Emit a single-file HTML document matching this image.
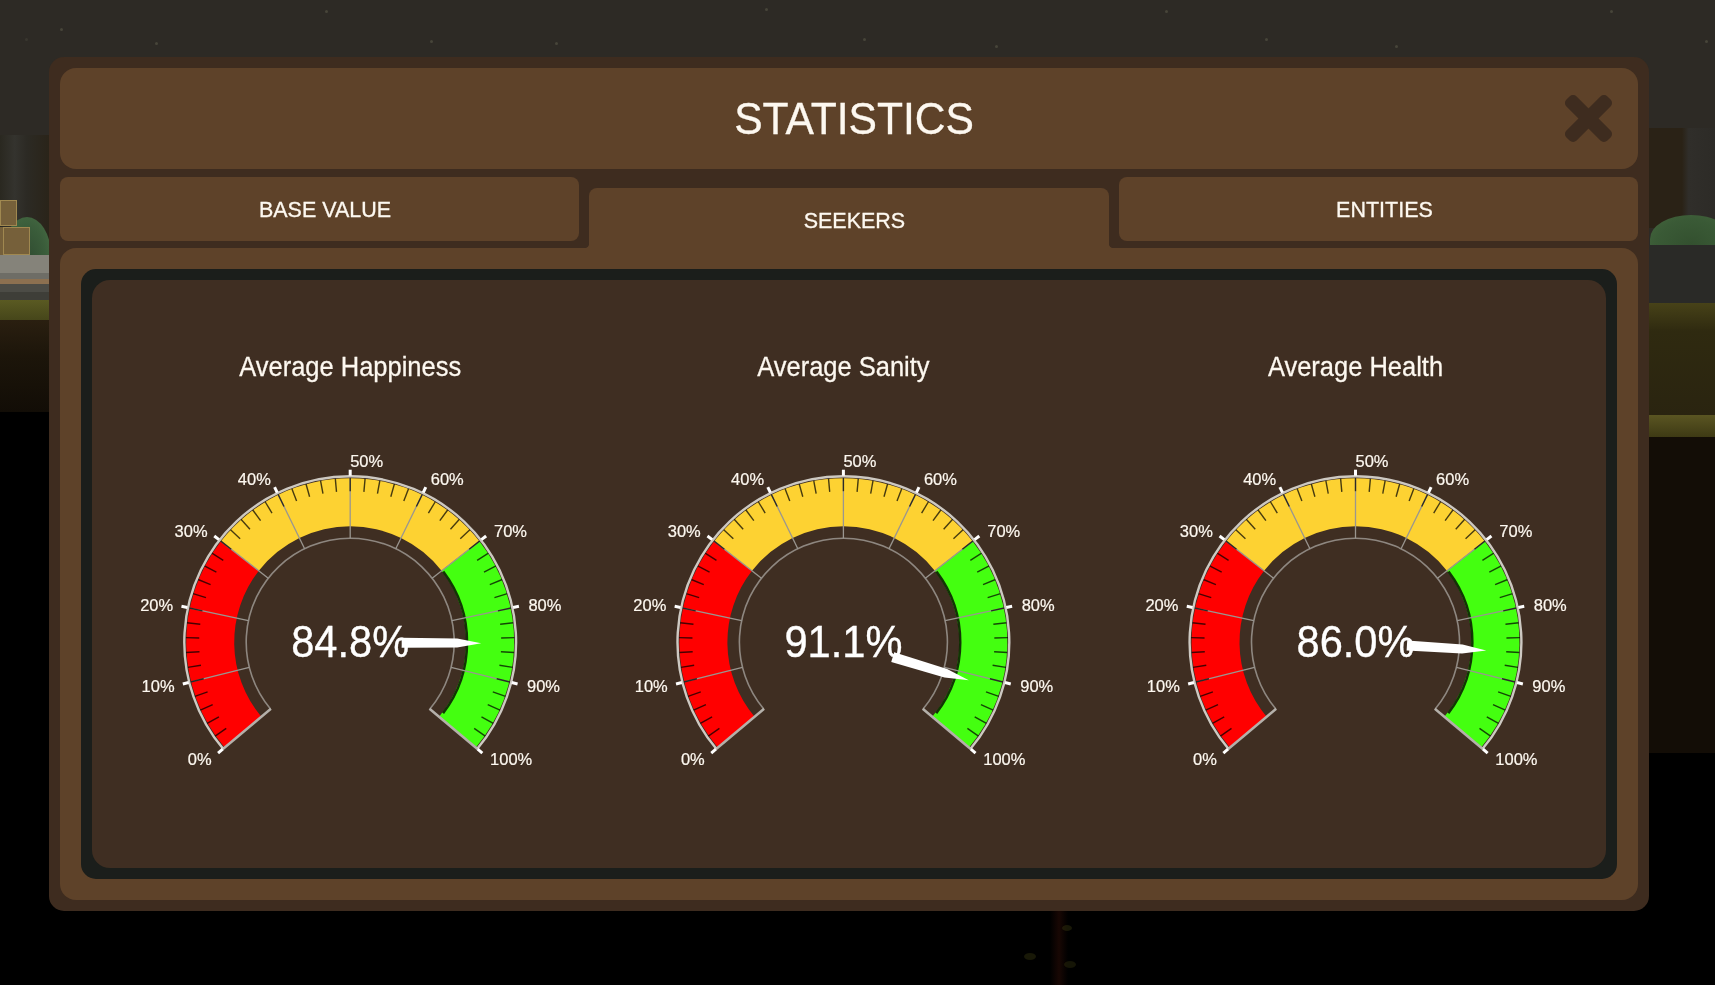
<!DOCTYPE html>
<html><head><meta charset="utf-8"><style>
html,body{margin:0;padding:0;}
body{width:1715px;height:985px;position:relative;overflow:hidden;background:#000;font-family:"Liberation Sans",sans-serif;}
.abs{position:absolute;}
.lab{font-family:"Liberation Sans",sans-serif;font-size:16.5px;fill:#fdf8f0;stroke:#fdf8f0;stroke-width:0.2px;}
.val{font-family:"Liberation Sans",sans-serif;font-size:41.6px;fill:#ffffff;stroke:#ffffff;stroke-width:0.35px;}
.ttl{font-family:"Liberation Sans",sans-serif;font-size:25.5px;fill:#fdf8f0;stroke:#fdf8f0;stroke-width:0.25px;}
.txt{position:absolute;color:#fcf4e6;white-space:nowrap;line-height:1;}
</style></head><body>
<!-- background -->
<div class="abs" style="left:0;top:0;width:1715px;height:412px;background:#2d2a25"></div>
<div class="abs" style="left:0;top:135px;width:49px;height:120px;background:linear-gradient(90deg,#2a2820 0,#34332e 30%,#2c2a24 55%,#2a2419 100%)"></div>
<div class="abs" style="left:0;top:200px;width:49px;height:55px;overflow:hidden"><div class="abs" style="left:3px;top:17px;width:48px;height:76px;border-radius:50%;background:radial-gradient(ellipse at 50% 60%,#2f4a30 0,#3a5c3a 55%,#4a7046 100%)"></div></div>
<div class="abs" style="left:0;top:200px;width:17px;height:26px;background:#76603a;box-shadow:inset 0 0 0 1px #a08850"></div>
<div class="abs" style="left:0;top:227px;width:3px;height:28px;background:#76603a"></div>
<div class="abs" style="left:3px;top:227px;width:27px;height:28px;background:#76603a;box-shadow:inset 0 0 0 1px #a08850"></div>
<div class="abs" style="left:0;top:255px;width:49px;height:18px;background:#85837a"></div>
<div class="abs" style="left:0;top:273px;width:49px;height:6px;background:#6e6d66"></div>
<div class="abs" style="left:0;top:279px;width:49px;height:5px;background:#8c7050"></div>
<div class="abs" style="left:0;top:284px;width:49px;height:8px;background:#4c4c46"></div>
<div class="abs" style="left:0;top:292px;width:49px;height:8px;background:#3e3e38"></div>
<div class="abs" style="left:0;top:300px;width:49px;height:20px;background:linear-gradient(#5a5a22,#46461a)"></div>
<div class="abs" style="left:0;top:320px;width:49px;height:92px;background:linear-gradient(#2a1f10,#1c150a 40%,#120d06)"></div>
<div class="abs" style="left:1649px;top:128px;width:66px;height:100px;background:linear-gradient(90deg,#2a2216 0,#2a2216 50%,#302e2a 60%,#2d2b27 100%)"></div>
<div class="abs" style="left:1649px;top:235px;width:66px;height:68px;background:#2a2a27"></div>
<div class="abs" style="left:1650px;top:215px;width:82px;height:30px;background:radial-gradient(ellipse at 50% 100%,#33502f 0,#3a5a36 60%,#44663c 100%);border-radius:50% 50% 0 0/80% 80% 0 0"></div>
<div class="abs" style="left:1649px;top:303px;width:66px;height:112px;background:linear-gradient(#474218,#2f2a10 25%,#2a2410)"></div>
<div class="abs" style="left:1649px;top:415px;width:66px;height:22px;background:linear-gradient(#5a5522,#3e3a14)"></div>
<div class="abs" style="left:1649px;top:437px;width:66px;height:316px;background:#130d06"></div>
<div class="abs" style="left:25px;top:38px;width:3px;height:3px;background:rgba(150,150,120,0.12);border-radius:50%"></div><div class="abs" style="left:60px;top:28px;width:3px;height:3px;background:rgba(150,150,120,0.25);border-radius:50%"></div><div class="abs" style="left:155px;top:42px;width:3px;height:3px;background:rgba(150,150,120,0.25);border-radius:50%"></div><div class="abs" style="left:325px;top:10px;width:3px;height:3px;background:rgba(150,150,120,0.25);border-radius:50%"></div><div class="abs" style="left:430px;top:40px;width:3px;height:3px;background:rgba(150,150,120,0.25);border-radius:50%"></div><div class="abs" style="left:555px;top:42px;width:3px;height:3px;background:rgba(150,150,120,0.25);border-radius:50%"></div><div class="abs" style="left:765px;top:8px;width:3px;height:3px;background:rgba(150,150,120,0.25);border-radius:50%"></div><div class="abs" style="left:863px;top:38px;width:3px;height:3px;background:rgba(150,150,120,0.25);border-radius:50%"></div><div class="abs" style="left:995px;top:45px;width:3px;height:3px;background:rgba(150,150,120,0.25);border-radius:50%"></div><div class="abs" style="left:1165px;top:10px;width:3px;height:3px;background:rgba(150,150,120,0.25);border-radius:50%"></div><div class="abs" style="left:1265px;top:38px;width:3px;height:3px;background:rgba(150,150,120,0.25);border-radius:50%"></div><div class="abs" style="left:1395px;top:45px;width:3px;height:3px;background:rgba(150,150,120,0.25);border-radius:50%"></div><div class="abs" style="left:1610px;top:10px;width:3px;height:3px;background:rgba(150,150,120,0.25);border-radius:50%"></div><div class="abs" style="left:1705px;top:40px;width:3px;height:3px;background:rgba(150,150,120,0.25);border-radius:50%"></div>
<div class="abs" style="left:1050px;top:911px;width:18px;height:74px;background:linear-gradient(90deg,rgba(40,10,5,0) 0,rgba(40,12,6,0.6) 50%,rgba(40,10,5,0) 100%)"></div>
<div class="abs" style="left:1062px;top:925px;width:10px;height:6px;background:rgba(70,70,20,0.35);border-radius:50%"></div>
<div class="abs" style="left:1024px;top:953px;width:12px;height:7px;background:rgba(70,70,20,0.35);border-radius:50%"></div>
<div class="abs" style="left:1064px;top:961px;width:12px;height:7px;background:rgba(70,70,20,0.3);border-radius:50%"></div>
<!-- modal -->
<div class="abs" style="left:49px;top:57px;width:1600px;height:854px;background:#3e2c1f;border-radius:15px"></div>
<div class="abs" style="left:60px;top:68px;width:1578px;height:101px;background:#5e4229;border-radius:16px"></div>

<svg class="abs" style="left:0;top:0" width="1715" height="985"><g fill="#3e2c1f" transform="translate(1588.5,118.5)"><rect x="-29" y="-7.2" width="58" height="14.4" rx="5" transform="rotate(45)"/><rect x="-29" y="-7.2" width="58" height="14.4" rx="5" transform="rotate(-45)"/></g></svg>
<div class="abs" style="left:60px;top:177px;width:519px;height:64px;background:#5e4229;border-radius:8px"></div>
<div class="abs" style="left:1119px;top:177px;width:519px;height:64px;background:#5e4229;border-radius:8px"></div>
<div class="abs" style="left:589px;top:188px;width:520px;height:80px;background:#5e4229;border-radius:8px 8px 0 0"></div>
<div class="abs" style="left:60px;top:248px;width:1578px;height:652px;background:#5e4229;border-radius:16px"></div>
<div class="abs" style="left:585px;top:244px;width:4px;height:4px;background:radial-gradient(circle at 0 0,#3e2c1f 3.6px,#5e4229 4.4px)"></div>
<div class="abs" style="left:1109px;top:244px;width:4px;height:4px;background:radial-gradient(circle at 100% 0,#3e2c1f 3.6px,#5e4229 4.4px)"></div>

<div class="abs" style="left:81px;top:269px;width:1536px;height:610px;background:#1b1e1b;border-radius:15px"></div>
<div class="abs" style="left:92px;top:280px;width:1514px;height:588px;background:#3f2e22;border-radius:18px"></div>
<svg class="abs" style="left:0;top:0;will-change:transform" width="1715" height="985">
<g fill="#fdf8f0" stroke="#fdf8f0" stroke-width="0.3" font-family="Liberation Sans" text-anchor="middle">
<text transform="translate(854.1,133.8) scale(1,1.04)" font-size="42.6">STATISTICS</text>
<text transform="translate(325,216.7) scale(1,1.04)" font-size="21.5">BASE VALUE</text>
<text transform="translate(854.45,227.7) scale(1,1.04)" font-size="21.5">SEEKERS</text>
<text transform="translate(1384.45,216.9) scale(1,1.04)" font-size="21.5">ENTITIES</text>
</g>
<path d="M224.57,747.62 A164.0,164.0 0 0 1 220.97,541.23 L258.79,570.78 A116.0,116.0 0 0 0 261.34,716.76 Z" fill="#ff0000"/>
<path d="M220.97,541.23 A164.0,164.0 0 0 1 479.43,541.23 L441.61,570.78 A116.0,116.0 0 0 0 258.79,570.78 Z" fill="#fdd232"/>
<path d="M479.43,541.23 A164.0,164.0 0 0 1 475.83,747.62 L439.06,716.76 A116.0,116.0 0 0 0 441.61,570.78 Z" fill="#44ff10"/>
<path d="M443.29,571.49 A116.9,116.9 0 0 1 443.07,713.20" fill="none" stroke="rgba(8,18,2,0.85)" stroke-width="2.4"/>
<path d="M270.53,709.05 A104.0,104.0 0 1 1 429.87,709.05" fill="none" stroke="#8e8780" stroke-width="1.6"/>
<line x1="249.29" y1="667.36" x2="191.07" y2="681.88" stroke="#9a9690" stroke-width="1.3" stroke-linecap="butt"/>
<line x1="248.47" y1="620.58" x2="189.78" y2="608.10" stroke="#9a9690" stroke-width="1.3" stroke-linecap="butt"/>
<line x1="268.25" y1="578.17" x2="220.97" y2="541.23" stroke="#9a9690" stroke-width="1.3" stroke-linecap="butt"/>
<line x1="304.61" y1="548.73" x2="278.31" y2="494.80" stroke="#9a9690" stroke-width="1.3" stroke-linecap="butt"/>
<line x1="350.20" y1="538.20" x2="350.20" y2="478.20" stroke="#9a9690" stroke-width="1.3" stroke-linecap="butt"/>
<line x1="395.79" y1="548.73" x2="422.09" y2="494.80" stroke="#9a9690" stroke-width="1.3" stroke-linecap="butt"/>
<line x1="432.15" y1="578.17" x2="479.43" y2="541.23" stroke="#9a9690" stroke-width="1.3" stroke-linecap="butt"/>
<line x1="451.93" y1="620.58" x2="510.62" y2="608.10" stroke="#9a9690" stroke-width="1.3" stroke-linecap="butt"/>
<line x1="451.11" y1="667.36" x2="509.33" y2="681.88" stroke="#9a9690" stroke-width="1.3" stroke-linecap="butt"/>
<line x1="234.53" y1="739.26" x2="224.19" y2="747.94" stroke="rgba(0,0,0,0.72)" stroke-width="1.4" stroke-linecap="butt"/>
<line x1="226.21" y1="728.38" x2="215.12" y2="736.08" stroke="rgba(0,0,0,0.72)" stroke-width="1.4" stroke-linecap="butt"/>
<line x1="218.91" y1="716.79" x2="207.17" y2="723.45" stroke="rgba(0,0,0,0.72)" stroke-width="1.4" stroke-linecap="butt"/>
<line x1="212.69" y1="704.58" x2="200.39" y2="710.16" stroke="rgba(0,0,0,0.72)" stroke-width="1.4" stroke-linecap="butt"/>
<line x1="207.60" y1="691.86" x2="194.85" y2="696.30" stroke="rgba(0,0,0,0.72)" stroke-width="1.4" stroke-linecap="butt"/>
<line x1="203.69" y1="678.73" x2="190.59" y2="682.00" stroke="rgba(0,0,0,0.72)" stroke-width="1.4" stroke-linecap="butt"/>
<line x1="200.98" y1="665.30" x2="187.64" y2="667.37" stroke="rgba(0,0,0,0.72)" stroke-width="1.4" stroke-linecap="butt"/>
<line x1="199.50" y1="651.68" x2="186.02" y2="652.53" stroke="rgba(0,0,0,0.72)" stroke-width="1.4" stroke-linecap="butt"/>
<line x1="199.26" y1="637.98" x2="185.76" y2="637.61" stroke="rgba(0,0,0,0.72)" stroke-width="1.4" stroke-linecap="butt"/>
<line x1="200.26" y1="624.32" x2="186.86" y2="622.72" stroke="rgba(0,0,0,0.72)" stroke-width="1.4" stroke-linecap="butt"/>
<line x1="202.50" y1="610.81" x2="189.29" y2="608.00" stroke="rgba(0,0,0,0.72)" stroke-width="1.4" stroke-linecap="butt"/>
<line x1="205.95" y1="597.55" x2="193.06" y2="593.56" stroke="rgba(0,0,0,0.72)" stroke-width="1.4" stroke-linecap="butt"/>
<line x1="210.59" y1="584.66" x2="198.11" y2="579.51" stroke="rgba(0,0,0,0.72)" stroke-width="1.4" stroke-linecap="butt"/>
<line x1="216.38" y1="572.24" x2="204.42" y2="565.99" stroke="rgba(0,0,0,0.72)" stroke-width="1.4" stroke-linecap="butt"/>
<line x1="223.27" y1="560.40" x2="211.93" y2="553.09" stroke="rgba(0,0,0,0.72)" stroke-width="1.4" stroke-linecap="butt"/>
<line x1="231.21" y1="549.24" x2="220.57" y2="540.92" stroke="rgba(0,0,0,0.72)" stroke-width="1.4" stroke-linecap="butt"/>
<line x1="240.13" y1="538.83" x2="230.28" y2="529.59" stroke="rgba(0,0,0,0.72)" stroke-width="1.4" stroke-linecap="butt"/>
<line x1="249.95" y1="529.28" x2="240.98" y2="519.19" stroke="rgba(0,0,0,0.72)" stroke-width="1.4" stroke-linecap="butt"/>
<line x1="260.59" y1="520.66" x2="252.58" y2="509.79" stroke="rgba(0,0,0,0.72)" stroke-width="1.4" stroke-linecap="butt"/>
<line x1="271.98" y1="513.04" x2="264.98" y2="501.49" stroke="rgba(0,0,0,0.72)" stroke-width="1.4" stroke-linecap="butt"/>
<line x1="284.01" y1="506.48" x2="278.09" y2="494.35" stroke="rgba(0,0,0,0.72)" stroke-width="1.4" stroke-linecap="butt"/>
<line x1="296.58" y1="501.04" x2="291.78" y2="488.42" stroke="rgba(0,0,0,0.72)" stroke-width="1.4" stroke-linecap="butt"/>
<line x1="309.59" y1="496.76" x2="305.96" y2="483.76" stroke="rgba(0,0,0,0.72)" stroke-width="1.4" stroke-linecap="butt"/>
<line x1="322.94" y1="493.68" x2="320.50" y2="480.40" stroke="rgba(0,0,0,0.72)" stroke-width="1.4" stroke-linecap="butt"/>
<line x1="336.51" y1="491.82" x2="335.29" y2="478.38" stroke="rgba(0,0,0,0.72)" stroke-width="1.4" stroke-linecap="butt"/>
<line x1="350.20" y1="491.20" x2="350.20" y2="477.70" stroke="rgba(0,0,0,0.72)" stroke-width="1.4" stroke-linecap="butt"/>
<line x1="363.89" y1="491.82" x2="365.11" y2="478.38" stroke="rgba(0,0,0,0.72)" stroke-width="1.4" stroke-linecap="butt"/>
<line x1="377.46" y1="493.68" x2="379.90" y2="480.40" stroke="rgba(0,0,0,0.72)" stroke-width="1.4" stroke-linecap="butt"/>
<line x1="390.81" y1="496.76" x2="394.44" y2="483.76" stroke="rgba(0,0,0,0.72)" stroke-width="1.4" stroke-linecap="butt"/>
<line x1="403.82" y1="501.04" x2="408.62" y2="488.42" stroke="rgba(0,0,0,0.72)" stroke-width="1.4" stroke-linecap="butt"/>
<line x1="416.39" y1="506.48" x2="422.31" y2="494.35" stroke="rgba(0,0,0,0.72)" stroke-width="1.4" stroke-linecap="butt"/>
<line x1="428.42" y1="513.04" x2="435.42" y2="501.49" stroke="rgba(0,0,0,0.72)" stroke-width="1.4" stroke-linecap="butt"/>
<line x1="439.81" y1="520.66" x2="447.82" y2="509.79" stroke="rgba(0,0,0,0.72)" stroke-width="1.4" stroke-linecap="butt"/>
<line x1="450.45" y1="529.28" x2="459.42" y2="519.19" stroke="rgba(0,0,0,0.72)" stroke-width="1.4" stroke-linecap="butt"/>
<line x1="460.27" y1="538.83" x2="470.12" y2="529.59" stroke="rgba(0,0,0,0.72)" stroke-width="1.4" stroke-linecap="butt"/>
<line x1="469.19" y1="549.24" x2="479.83" y2="540.92" stroke="rgba(0,0,0,0.72)" stroke-width="1.4" stroke-linecap="butt"/>
<line x1="477.13" y1="560.40" x2="488.47" y2="553.09" stroke="rgba(0,0,0,0.72)" stroke-width="1.4" stroke-linecap="butt"/>
<line x1="484.02" y1="572.24" x2="495.98" y2="565.99" stroke="rgba(0,0,0,0.72)" stroke-width="1.4" stroke-linecap="butt"/>
<line x1="489.81" y1="584.66" x2="502.29" y2="579.51" stroke="rgba(0,0,0,0.72)" stroke-width="1.4" stroke-linecap="butt"/>
<line x1="494.45" y1="597.55" x2="507.34" y2="593.56" stroke="rgba(0,0,0,0.72)" stroke-width="1.4" stroke-linecap="butt"/>
<line x1="497.90" y1="610.81" x2="511.11" y2="608.00" stroke="rgba(0,0,0,0.72)" stroke-width="1.4" stroke-linecap="butt"/>
<line x1="500.14" y1="624.32" x2="513.54" y2="622.72" stroke="rgba(0,0,0,0.72)" stroke-width="1.4" stroke-linecap="butt"/>
<line x1="501.14" y1="637.98" x2="514.64" y2="637.61" stroke="rgba(0,0,0,0.72)" stroke-width="1.4" stroke-linecap="butt"/>
<line x1="500.90" y1="651.68" x2="514.38" y2="652.53" stroke="rgba(0,0,0,0.72)" stroke-width="1.4" stroke-linecap="butt"/>
<line x1="499.42" y1="665.30" x2="512.76" y2="667.37" stroke="rgba(0,0,0,0.72)" stroke-width="1.4" stroke-linecap="butt"/>
<line x1="496.71" y1="678.73" x2="509.81" y2="682.00" stroke="rgba(0,0,0,0.72)" stroke-width="1.4" stroke-linecap="butt"/>
<line x1="492.80" y1="691.86" x2="505.55" y2="696.30" stroke="rgba(0,0,0,0.72)" stroke-width="1.4" stroke-linecap="butt"/>
<line x1="487.71" y1="704.58" x2="500.01" y2="710.16" stroke="rgba(0,0,0,0.72)" stroke-width="1.4" stroke-linecap="butt"/>
<line x1="481.49" y1="716.79" x2="493.23" y2="723.45" stroke="rgba(0,0,0,0.72)" stroke-width="1.4" stroke-linecap="butt"/>
<line x1="474.19" y1="728.38" x2="485.28" y2="736.08" stroke="rgba(0,0,0,0.72)" stroke-width="1.4" stroke-linecap="butt"/>
<line x1="465.87" y1="739.26" x2="476.21" y2="747.94" stroke="rgba(0,0,0,0.72)" stroke-width="1.4" stroke-linecap="butt"/>
<line x1="270.91" y1="708.73" x2="222.35" y2="749.48" stroke="#b4b0aa" stroke-width="2.5" stroke-linecap="butt"/>
<line x1="429.49" y1="708.73" x2="478.05" y2="749.48" stroke="#b4b0aa" stroke-width="2.5" stroke-linecap="butt"/>
<path d="M223.11,748.84 A165.9,165.9 0 1 1 477.29,748.84" fill="none" stroke="#cdc9c2" stroke-width="2.4"/>
<line x1="222.65" y1="749.22" x2="218.06" y2="753.08" stroke="#ffffff" stroke-width="3.0" stroke-linecap="butt"/>
<line x1="188.65" y1="682.48" x2="182.82" y2="683.93" stroke="#ffffff" stroke-width="3.0" stroke-linecap="butt"/>
<line x1="187.34" y1="607.58" x2="181.47" y2="606.34" stroke="#ffffff" stroke-width="3.0" stroke-linecap="butt"/>
<line x1="219.00" y1="539.69" x2="214.27" y2="536.00" stroke="#ffffff" stroke-width="3.0" stroke-linecap="butt"/>
<line x1="277.21" y1="492.55" x2="274.58" y2="487.16" stroke="#ffffff" stroke-width="3.0" stroke-linecap="butt"/>
<line x1="350.20" y1="475.70" x2="350.20" y2="469.70" stroke="#ffffff" stroke-width="3.0" stroke-linecap="butt"/>
<line x1="423.19" y1="492.55" x2="425.82" y2="487.16" stroke="#ffffff" stroke-width="3.0" stroke-linecap="butt"/>
<line x1="481.40" y1="539.69" x2="486.13" y2="536.00" stroke="#ffffff" stroke-width="3.0" stroke-linecap="butt"/>
<line x1="513.06" y1="607.58" x2="518.93" y2="606.34" stroke="#ffffff" stroke-width="3.0" stroke-linecap="butt"/>
<line x1="511.75" y1="682.48" x2="517.58" y2="683.93" stroke="#ffffff" stroke-width="3.0" stroke-linecap="butt"/>
<line x1="477.75" y1="749.22" x2="482.34" y2="753.08" stroke="#ffffff" stroke-width="3.0" stroke-linecap="butt"/>
<text transform="translate(211.55,764.50) scale(1,1.05)" text-anchor="end" class="lab">0%</text>
<text transform="translate(174.58,691.95) scale(1,1.05)" text-anchor="end" class="lab">10%</text>
<text transform="translate(173.16,610.53) scale(1,1.05)" text-anchor="end" class="lab">20%</text>
<text transform="translate(207.57,536.73) scale(1,1.05)" text-anchor="end" class="lab">30%</text>
<text transform="translate(270.85,485.48) scale(1,1.05)" text-anchor="end" class="lab">40%</text>
<text transform="translate(350.20,467.16) scale(1,1.05)" text-anchor="start" class="lab">50%</text>
<text transform="translate(430.75,485.48) scale(1,1.05)" text-anchor="start" class="lab">60%</text>
<text transform="translate(494.03,536.73) scale(1,1.05)" text-anchor="start" class="lab">70%</text>
<text transform="translate(528.44,610.53) scale(1,1.05)" text-anchor="start" class="lab">80%</text>
<text transform="translate(527.02,691.95) scale(1,1.05)" text-anchor="start" class="lab">90%</text>
<text transform="translate(490.05,764.50) scale(1,1.05)" text-anchor="start" class="lab">100%</text>
<text transform="translate(350.20,657.0) scale(1,1.07)" text-anchor="middle" class="val">84.8%</text>
<polygon points="401.74,637.63 457.23,638.60 481.20,643.30 457.16,647.60 401.66,647.63" fill="#ffffff"/>
<text transform="translate(350.20,375.8) scale(1,1.07)" text-anchor="middle" class="ttl">Average Happiness</text><path d="M717.77,747.62 A164.0,164.0 0 0 1 714.17,541.23 L751.99,570.78 A116.0,116.0 0 0 0 754.54,716.76 Z" fill="#ff0000"/>
<path d="M714.17,541.23 A164.0,164.0 0 0 1 972.63,541.23 L934.81,570.78 A116.0,116.0 0 0 0 751.99,570.78 Z" fill="#fdd232"/>
<path d="M972.63,541.23 A164.0,164.0 0 0 1 969.03,747.62 L932.26,716.76 A116.0,116.0 0 0 0 934.81,570.78 Z" fill="#44ff10"/>
<path d="M936.49,571.49 A116.9,116.9 0 0 1 936.27,713.20" fill="none" stroke="rgba(8,18,2,0.85)" stroke-width="2.4"/>
<path d="M763.73,709.05 A104.0,104.0 0 1 1 923.07,709.05" fill="none" stroke="#8e8780" stroke-width="1.6"/>
<line x1="742.49" y1="667.36" x2="684.27" y2="681.88" stroke="#9a9690" stroke-width="1.3" stroke-linecap="butt"/>
<line x1="741.67" y1="620.58" x2="682.98" y2="608.10" stroke="#9a9690" stroke-width="1.3" stroke-linecap="butt"/>
<line x1="761.45" y1="578.17" x2="714.17" y2="541.23" stroke="#9a9690" stroke-width="1.3" stroke-linecap="butt"/>
<line x1="797.81" y1="548.73" x2="771.51" y2="494.80" stroke="#9a9690" stroke-width="1.3" stroke-linecap="butt"/>
<line x1="843.40" y1="538.20" x2="843.40" y2="478.20" stroke="#9a9690" stroke-width="1.3" stroke-linecap="butt"/>
<line x1="888.99" y1="548.73" x2="915.29" y2="494.80" stroke="#9a9690" stroke-width="1.3" stroke-linecap="butt"/>
<line x1="925.35" y1="578.17" x2="972.63" y2="541.23" stroke="#9a9690" stroke-width="1.3" stroke-linecap="butt"/>
<line x1="945.13" y1="620.58" x2="1003.82" y2="608.10" stroke="#9a9690" stroke-width="1.3" stroke-linecap="butt"/>
<line x1="944.31" y1="667.36" x2="1002.53" y2="681.88" stroke="#9a9690" stroke-width="1.3" stroke-linecap="butt"/>
<line x1="727.73" y1="739.26" x2="717.39" y2="747.94" stroke="rgba(0,0,0,0.72)" stroke-width="1.4" stroke-linecap="butt"/>
<line x1="719.41" y1="728.38" x2="708.32" y2="736.08" stroke="rgba(0,0,0,0.72)" stroke-width="1.4" stroke-linecap="butt"/>
<line x1="712.11" y1="716.79" x2="700.37" y2="723.45" stroke="rgba(0,0,0,0.72)" stroke-width="1.4" stroke-linecap="butt"/>
<line x1="705.89" y1="704.58" x2="693.59" y2="710.16" stroke="rgba(0,0,0,0.72)" stroke-width="1.4" stroke-linecap="butt"/>
<line x1="700.80" y1="691.86" x2="688.05" y2="696.30" stroke="rgba(0,0,0,0.72)" stroke-width="1.4" stroke-linecap="butt"/>
<line x1="696.89" y1="678.73" x2="683.79" y2="682.00" stroke="rgba(0,0,0,0.72)" stroke-width="1.4" stroke-linecap="butt"/>
<line x1="694.18" y1="665.30" x2="680.84" y2="667.37" stroke="rgba(0,0,0,0.72)" stroke-width="1.4" stroke-linecap="butt"/>
<line x1="692.70" y1="651.68" x2="679.22" y2="652.53" stroke="rgba(0,0,0,0.72)" stroke-width="1.4" stroke-linecap="butt"/>
<line x1="692.46" y1="637.98" x2="678.96" y2="637.61" stroke="rgba(0,0,0,0.72)" stroke-width="1.4" stroke-linecap="butt"/>
<line x1="693.46" y1="624.32" x2="680.06" y2="622.72" stroke="rgba(0,0,0,0.72)" stroke-width="1.4" stroke-linecap="butt"/>
<line x1="695.70" y1="610.81" x2="682.49" y2="608.00" stroke="rgba(0,0,0,0.72)" stroke-width="1.4" stroke-linecap="butt"/>
<line x1="699.15" y1="597.55" x2="686.26" y2="593.56" stroke="rgba(0,0,0,0.72)" stroke-width="1.4" stroke-linecap="butt"/>
<line x1="703.79" y1="584.66" x2="691.31" y2="579.51" stroke="rgba(0,0,0,0.72)" stroke-width="1.4" stroke-linecap="butt"/>
<line x1="709.58" y1="572.24" x2="697.62" y2="565.99" stroke="rgba(0,0,0,0.72)" stroke-width="1.4" stroke-linecap="butt"/>
<line x1="716.47" y1="560.40" x2="705.13" y2="553.09" stroke="rgba(0,0,0,0.72)" stroke-width="1.4" stroke-linecap="butt"/>
<line x1="724.41" y1="549.24" x2="713.77" y2="540.92" stroke="rgba(0,0,0,0.72)" stroke-width="1.4" stroke-linecap="butt"/>
<line x1="733.33" y1="538.83" x2="723.48" y2="529.59" stroke="rgba(0,0,0,0.72)" stroke-width="1.4" stroke-linecap="butt"/>
<line x1="743.15" y1="529.28" x2="734.18" y2="519.19" stroke="rgba(0,0,0,0.72)" stroke-width="1.4" stroke-linecap="butt"/>
<line x1="753.79" y1="520.66" x2="745.78" y2="509.79" stroke="rgba(0,0,0,0.72)" stroke-width="1.4" stroke-linecap="butt"/>
<line x1="765.18" y1="513.04" x2="758.18" y2="501.49" stroke="rgba(0,0,0,0.72)" stroke-width="1.4" stroke-linecap="butt"/>
<line x1="777.21" y1="506.48" x2="771.29" y2="494.35" stroke="rgba(0,0,0,0.72)" stroke-width="1.4" stroke-linecap="butt"/>
<line x1="789.78" y1="501.04" x2="784.98" y2="488.42" stroke="rgba(0,0,0,0.72)" stroke-width="1.4" stroke-linecap="butt"/>
<line x1="802.79" y1="496.76" x2="799.16" y2="483.76" stroke="rgba(0,0,0,0.72)" stroke-width="1.4" stroke-linecap="butt"/>
<line x1="816.14" y1="493.68" x2="813.70" y2="480.40" stroke="rgba(0,0,0,0.72)" stroke-width="1.4" stroke-linecap="butt"/>
<line x1="829.71" y1="491.82" x2="828.49" y2="478.38" stroke="rgba(0,0,0,0.72)" stroke-width="1.4" stroke-linecap="butt"/>
<line x1="843.40" y1="491.20" x2="843.40" y2="477.70" stroke="rgba(0,0,0,0.72)" stroke-width="1.4" stroke-linecap="butt"/>
<line x1="857.09" y1="491.82" x2="858.31" y2="478.38" stroke="rgba(0,0,0,0.72)" stroke-width="1.4" stroke-linecap="butt"/>
<line x1="870.66" y1="493.68" x2="873.10" y2="480.40" stroke="rgba(0,0,0,0.72)" stroke-width="1.4" stroke-linecap="butt"/>
<line x1="884.01" y1="496.76" x2="887.64" y2="483.76" stroke="rgba(0,0,0,0.72)" stroke-width="1.4" stroke-linecap="butt"/>
<line x1="897.02" y1="501.04" x2="901.82" y2="488.42" stroke="rgba(0,0,0,0.72)" stroke-width="1.4" stroke-linecap="butt"/>
<line x1="909.59" y1="506.48" x2="915.51" y2="494.35" stroke="rgba(0,0,0,0.72)" stroke-width="1.4" stroke-linecap="butt"/>
<line x1="921.62" y1="513.04" x2="928.62" y2="501.49" stroke="rgba(0,0,0,0.72)" stroke-width="1.4" stroke-linecap="butt"/>
<line x1="933.01" y1="520.66" x2="941.02" y2="509.79" stroke="rgba(0,0,0,0.72)" stroke-width="1.4" stroke-linecap="butt"/>
<line x1="943.65" y1="529.28" x2="952.62" y2="519.19" stroke="rgba(0,0,0,0.72)" stroke-width="1.4" stroke-linecap="butt"/>
<line x1="953.47" y1="538.83" x2="963.32" y2="529.59" stroke="rgba(0,0,0,0.72)" stroke-width="1.4" stroke-linecap="butt"/>
<line x1="962.39" y1="549.24" x2="973.03" y2="540.92" stroke="rgba(0,0,0,0.72)" stroke-width="1.4" stroke-linecap="butt"/>
<line x1="970.33" y1="560.40" x2="981.67" y2="553.09" stroke="rgba(0,0,0,0.72)" stroke-width="1.4" stroke-linecap="butt"/>
<line x1="977.22" y1="572.24" x2="989.18" y2="565.99" stroke="rgba(0,0,0,0.72)" stroke-width="1.4" stroke-linecap="butt"/>
<line x1="983.01" y1="584.66" x2="995.49" y2="579.51" stroke="rgba(0,0,0,0.72)" stroke-width="1.4" stroke-linecap="butt"/>
<line x1="987.65" y1="597.55" x2="1000.54" y2="593.56" stroke="rgba(0,0,0,0.72)" stroke-width="1.4" stroke-linecap="butt"/>
<line x1="991.10" y1="610.81" x2="1004.31" y2="608.00" stroke="rgba(0,0,0,0.72)" stroke-width="1.4" stroke-linecap="butt"/>
<line x1="993.34" y1="624.32" x2="1006.74" y2="622.72" stroke="rgba(0,0,0,0.72)" stroke-width="1.4" stroke-linecap="butt"/>
<line x1="994.34" y1="637.98" x2="1007.84" y2="637.61" stroke="rgba(0,0,0,0.72)" stroke-width="1.4" stroke-linecap="butt"/>
<line x1="994.10" y1="651.68" x2="1007.58" y2="652.53" stroke="rgba(0,0,0,0.72)" stroke-width="1.4" stroke-linecap="butt"/>
<line x1="992.62" y1="665.30" x2="1005.96" y2="667.37" stroke="rgba(0,0,0,0.72)" stroke-width="1.4" stroke-linecap="butt"/>
<line x1="989.91" y1="678.73" x2="1003.01" y2="682.00" stroke="rgba(0,0,0,0.72)" stroke-width="1.4" stroke-linecap="butt"/>
<line x1="986.00" y1="691.86" x2="998.75" y2="696.30" stroke="rgba(0,0,0,0.72)" stroke-width="1.4" stroke-linecap="butt"/>
<line x1="980.91" y1="704.58" x2="993.21" y2="710.16" stroke="rgba(0,0,0,0.72)" stroke-width="1.4" stroke-linecap="butt"/>
<line x1="974.69" y1="716.79" x2="986.43" y2="723.45" stroke="rgba(0,0,0,0.72)" stroke-width="1.4" stroke-linecap="butt"/>
<line x1="967.39" y1="728.38" x2="978.48" y2="736.08" stroke="rgba(0,0,0,0.72)" stroke-width="1.4" stroke-linecap="butt"/>
<line x1="959.07" y1="739.26" x2="969.41" y2="747.94" stroke="rgba(0,0,0,0.72)" stroke-width="1.4" stroke-linecap="butt"/>
<line x1="764.11" y1="708.73" x2="715.55" y2="749.48" stroke="#b4b0aa" stroke-width="2.5" stroke-linecap="butt"/>
<line x1="922.69" y1="708.73" x2="971.25" y2="749.48" stroke="#b4b0aa" stroke-width="2.5" stroke-linecap="butt"/>
<path d="M716.31,748.84 A165.9,165.9 0 1 1 970.49,748.84" fill="none" stroke="#cdc9c2" stroke-width="2.4"/>
<line x1="715.85" y1="749.22" x2="711.26" y2="753.08" stroke="#ffffff" stroke-width="3.0" stroke-linecap="butt"/>
<line x1="681.85" y1="682.48" x2="676.02" y2="683.93" stroke="#ffffff" stroke-width="3.0" stroke-linecap="butt"/>
<line x1="680.54" y1="607.58" x2="674.67" y2="606.34" stroke="#ffffff" stroke-width="3.0" stroke-linecap="butt"/>
<line x1="712.20" y1="539.69" x2="707.47" y2="536.00" stroke="#ffffff" stroke-width="3.0" stroke-linecap="butt"/>
<line x1="770.41" y1="492.55" x2="767.78" y2="487.16" stroke="#ffffff" stroke-width="3.0" stroke-linecap="butt"/>
<line x1="843.40" y1="475.70" x2="843.40" y2="469.70" stroke="#ffffff" stroke-width="3.0" stroke-linecap="butt"/>
<line x1="916.39" y1="492.55" x2="919.02" y2="487.16" stroke="#ffffff" stroke-width="3.0" stroke-linecap="butt"/>
<line x1="974.60" y1="539.69" x2="979.33" y2="536.00" stroke="#ffffff" stroke-width="3.0" stroke-linecap="butt"/>
<line x1="1006.26" y1="607.58" x2="1012.13" y2="606.34" stroke="#ffffff" stroke-width="3.0" stroke-linecap="butt"/>
<line x1="1004.95" y1="682.48" x2="1010.78" y2="683.93" stroke="#ffffff" stroke-width="3.0" stroke-linecap="butt"/>
<line x1="970.95" y1="749.22" x2="975.54" y2="753.08" stroke="#ffffff" stroke-width="3.0" stroke-linecap="butt"/>
<text transform="translate(704.75,764.50) scale(1,1.05)" text-anchor="end" class="lab">0%</text>
<text transform="translate(667.78,691.95) scale(1,1.05)" text-anchor="end" class="lab">10%</text>
<text transform="translate(666.36,610.53) scale(1,1.05)" text-anchor="end" class="lab">20%</text>
<text transform="translate(700.77,536.73) scale(1,1.05)" text-anchor="end" class="lab">30%</text>
<text transform="translate(764.05,485.48) scale(1,1.05)" text-anchor="end" class="lab">40%</text>
<text transform="translate(843.40,467.16) scale(1,1.05)" text-anchor="start" class="lab">50%</text>
<text transform="translate(923.95,485.48) scale(1,1.05)" text-anchor="start" class="lab">60%</text>
<text transform="translate(987.23,536.73) scale(1,1.05)" text-anchor="start" class="lab">70%</text>
<text transform="translate(1021.64,610.53) scale(1,1.05)" text-anchor="start" class="lab">80%</text>
<text transform="translate(1020.22,691.95) scale(1,1.05)" text-anchor="start" class="lab">90%</text>
<text transform="translate(983.25,764.50) scale(1,1.05)" text-anchor="start" class="lab">100%</text>
<text transform="translate(843.40,657.0) scale(1,1.07)" text-anchor="middle" class="val">91.1%</text>
<polygon points="894.14,652.35 947.11,668.93 968.77,680.19 944.50,677.54 891.24,661.92" fill="#ffffff"/>
<text transform="translate(843.40,375.8) scale(1,1.07)" text-anchor="middle" class="ttl">Average Sanity</text><path d="M1229.87,747.62 A164.0,164.0 0 0 1 1226.27,541.23 L1264.09,570.78 A116.0,116.0 0 0 0 1266.64,716.76 Z" fill="#ff0000"/>
<path d="M1226.27,541.23 A164.0,164.0 0 0 1 1484.73,541.23 L1446.91,570.78 A116.0,116.0 0 0 0 1264.09,570.78 Z" fill="#fdd232"/>
<path d="M1484.73,541.23 A164.0,164.0 0 0 1 1481.13,747.62 L1444.36,716.76 A116.0,116.0 0 0 0 1446.91,570.78 Z" fill="#44ff10"/>
<path d="M1448.59,571.49 A116.9,116.9 0 0 1 1448.37,713.20" fill="none" stroke="rgba(8,18,2,0.85)" stroke-width="2.4"/>
<path d="M1275.83,709.05 A104.0,104.0 0 1 1 1435.17,709.05" fill="none" stroke="#8e8780" stroke-width="1.6"/>
<line x1="1254.59" y1="667.36" x2="1196.37" y2="681.88" stroke="#9a9690" stroke-width="1.3" stroke-linecap="butt"/>
<line x1="1253.77" y1="620.58" x2="1195.08" y2="608.10" stroke="#9a9690" stroke-width="1.3" stroke-linecap="butt"/>
<line x1="1273.55" y1="578.17" x2="1226.27" y2="541.23" stroke="#9a9690" stroke-width="1.3" stroke-linecap="butt"/>
<line x1="1309.91" y1="548.73" x2="1283.61" y2="494.80" stroke="#9a9690" stroke-width="1.3" stroke-linecap="butt"/>
<line x1="1355.50" y1="538.20" x2="1355.50" y2="478.20" stroke="#9a9690" stroke-width="1.3" stroke-linecap="butt"/>
<line x1="1401.09" y1="548.73" x2="1427.39" y2="494.80" stroke="#9a9690" stroke-width="1.3" stroke-linecap="butt"/>
<line x1="1437.45" y1="578.17" x2="1484.73" y2="541.23" stroke="#9a9690" stroke-width="1.3" stroke-linecap="butt"/>
<line x1="1457.23" y1="620.58" x2="1515.92" y2="608.10" stroke="#9a9690" stroke-width="1.3" stroke-linecap="butt"/>
<line x1="1456.41" y1="667.36" x2="1514.63" y2="681.88" stroke="#9a9690" stroke-width="1.3" stroke-linecap="butt"/>
<line x1="1239.83" y1="739.26" x2="1229.49" y2="747.94" stroke="rgba(0,0,0,0.72)" stroke-width="1.4" stroke-linecap="butt"/>
<line x1="1231.51" y1="728.38" x2="1220.42" y2="736.08" stroke="rgba(0,0,0,0.72)" stroke-width="1.4" stroke-linecap="butt"/>
<line x1="1224.21" y1="716.79" x2="1212.47" y2="723.45" stroke="rgba(0,0,0,0.72)" stroke-width="1.4" stroke-linecap="butt"/>
<line x1="1217.99" y1="704.58" x2="1205.69" y2="710.16" stroke="rgba(0,0,0,0.72)" stroke-width="1.4" stroke-linecap="butt"/>
<line x1="1212.90" y1="691.86" x2="1200.15" y2="696.30" stroke="rgba(0,0,0,0.72)" stroke-width="1.4" stroke-linecap="butt"/>
<line x1="1208.99" y1="678.73" x2="1195.89" y2="682.00" stroke="rgba(0,0,0,0.72)" stroke-width="1.4" stroke-linecap="butt"/>
<line x1="1206.28" y1="665.30" x2="1192.94" y2="667.37" stroke="rgba(0,0,0,0.72)" stroke-width="1.4" stroke-linecap="butt"/>
<line x1="1204.80" y1="651.68" x2="1191.32" y2="652.53" stroke="rgba(0,0,0,0.72)" stroke-width="1.4" stroke-linecap="butt"/>
<line x1="1204.56" y1="637.98" x2="1191.06" y2="637.61" stroke="rgba(0,0,0,0.72)" stroke-width="1.4" stroke-linecap="butt"/>
<line x1="1205.56" y1="624.32" x2="1192.16" y2="622.72" stroke="rgba(0,0,0,0.72)" stroke-width="1.4" stroke-linecap="butt"/>
<line x1="1207.80" y1="610.81" x2="1194.59" y2="608.00" stroke="rgba(0,0,0,0.72)" stroke-width="1.4" stroke-linecap="butt"/>
<line x1="1211.25" y1="597.55" x2="1198.36" y2="593.56" stroke="rgba(0,0,0,0.72)" stroke-width="1.4" stroke-linecap="butt"/>
<line x1="1215.89" y1="584.66" x2="1203.41" y2="579.51" stroke="rgba(0,0,0,0.72)" stroke-width="1.4" stroke-linecap="butt"/>
<line x1="1221.68" y1="572.24" x2="1209.72" y2="565.99" stroke="rgba(0,0,0,0.72)" stroke-width="1.4" stroke-linecap="butt"/>
<line x1="1228.57" y1="560.40" x2="1217.23" y2="553.09" stroke="rgba(0,0,0,0.72)" stroke-width="1.4" stroke-linecap="butt"/>
<line x1="1236.51" y1="549.24" x2="1225.87" y2="540.92" stroke="rgba(0,0,0,0.72)" stroke-width="1.4" stroke-linecap="butt"/>
<line x1="1245.43" y1="538.83" x2="1235.58" y2="529.59" stroke="rgba(0,0,0,0.72)" stroke-width="1.4" stroke-linecap="butt"/>
<line x1="1255.25" y1="529.28" x2="1246.28" y2="519.19" stroke="rgba(0,0,0,0.72)" stroke-width="1.4" stroke-linecap="butt"/>
<line x1="1265.89" y1="520.66" x2="1257.88" y2="509.79" stroke="rgba(0,0,0,0.72)" stroke-width="1.4" stroke-linecap="butt"/>
<line x1="1277.28" y1="513.04" x2="1270.28" y2="501.49" stroke="rgba(0,0,0,0.72)" stroke-width="1.4" stroke-linecap="butt"/>
<line x1="1289.31" y1="506.48" x2="1283.39" y2="494.35" stroke="rgba(0,0,0,0.72)" stroke-width="1.4" stroke-linecap="butt"/>
<line x1="1301.88" y1="501.04" x2="1297.08" y2="488.42" stroke="rgba(0,0,0,0.72)" stroke-width="1.4" stroke-linecap="butt"/>
<line x1="1314.89" y1="496.76" x2="1311.26" y2="483.76" stroke="rgba(0,0,0,0.72)" stroke-width="1.4" stroke-linecap="butt"/>
<line x1="1328.24" y1="493.68" x2="1325.80" y2="480.40" stroke="rgba(0,0,0,0.72)" stroke-width="1.4" stroke-linecap="butt"/>
<line x1="1341.81" y1="491.82" x2="1340.59" y2="478.38" stroke="rgba(0,0,0,0.72)" stroke-width="1.4" stroke-linecap="butt"/>
<line x1="1355.50" y1="491.20" x2="1355.50" y2="477.70" stroke="rgba(0,0,0,0.72)" stroke-width="1.4" stroke-linecap="butt"/>
<line x1="1369.19" y1="491.82" x2="1370.41" y2="478.38" stroke="rgba(0,0,0,0.72)" stroke-width="1.4" stroke-linecap="butt"/>
<line x1="1382.76" y1="493.68" x2="1385.20" y2="480.40" stroke="rgba(0,0,0,0.72)" stroke-width="1.4" stroke-linecap="butt"/>
<line x1="1396.11" y1="496.76" x2="1399.74" y2="483.76" stroke="rgba(0,0,0,0.72)" stroke-width="1.4" stroke-linecap="butt"/>
<line x1="1409.12" y1="501.04" x2="1413.92" y2="488.42" stroke="rgba(0,0,0,0.72)" stroke-width="1.4" stroke-linecap="butt"/>
<line x1="1421.69" y1="506.48" x2="1427.61" y2="494.35" stroke="rgba(0,0,0,0.72)" stroke-width="1.4" stroke-linecap="butt"/>
<line x1="1433.72" y1="513.04" x2="1440.72" y2="501.49" stroke="rgba(0,0,0,0.72)" stroke-width="1.4" stroke-linecap="butt"/>
<line x1="1445.11" y1="520.66" x2="1453.12" y2="509.79" stroke="rgba(0,0,0,0.72)" stroke-width="1.4" stroke-linecap="butt"/>
<line x1="1455.75" y1="529.28" x2="1464.72" y2="519.19" stroke="rgba(0,0,0,0.72)" stroke-width="1.4" stroke-linecap="butt"/>
<line x1="1465.57" y1="538.83" x2="1475.42" y2="529.59" stroke="rgba(0,0,0,0.72)" stroke-width="1.4" stroke-linecap="butt"/>
<line x1="1474.49" y1="549.24" x2="1485.13" y2="540.92" stroke="rgba(0,0,0,0.72)" stroke-width="1.4" stroke-linecap="butt"/>
<line x1="1482.43" y1="560.40" x2="1493.77" y2="553.09" stroke="rgba(0,0,0,0.72)" stroke-width="1.4" stroke-linecap="butt"/>
<line x1="1489.32" y1="572.24" x2="1501.28" y2="565.99" stroke="rgba(0,0,0,0.72)" stroke-width="1.4" stroke-linecap="butt"/>
<line x1="1495.11" y1="584.66" x2="1507.59" y2="579.51" stroke="rgba(0,0,0,0.72)" stroke-width="1.4" stroke-linecap="butt"/>
<line x1="1499.75" y1="597.55" x2="1512.64" y2="593.56" stroke="rgba(0,0,0,0.72)" stroke-width="1.4" stroke-linecap="butt"/>
<line x1="1503.20" y1="610.81" x2="1516.41" y2="608.00" stroke="rgba(0,0,0,0.72)" stroke-width="1.4" stroke-linecap="butt"/>
<line x1="1505.44" y1="624.32" x2="1518.84" y2="622.72" stroke="rgba(0,0,0,0.72)" stroke-width="1.4" stroke-linecap="butt"/>
<line x1="1506.44" y1="637.98" x2="1519.94" y2="637.61" stroke="rgba(0,0,0,0.72)" stroke-width="1.4" stroke-linecap="butt"/>
<line x1="1506.20" y1="651.68" x2="1519.68" y2="652.53" stroke="rgba(0,0,0,0.72)" stroke-width="1.4" stroke-linecap="butt"/>
<line x1="1504.72" y1="665.30" x2="1518.06" y2="667.37" stroke="rgba(0,0,0,0.72)" stroke-width="1.4" stroke-linecap="butt"/>
<line x1="1502.01" y1="678.73" x2="1515.11" y2="682.00" stroke="rgba(0,0,0,0.72)" stroke-width="1.4" stroke-linecap="butt"/>
<line x1="1498.10" y1="691.86" x2="1510.85" y2="696.30" stroke="rgba(0,0,0,0.72)" stroke-width="1.4" stroke-linecap="butt"/>
<line x1="1493.01" y1="704.58" x2="1505.31" y2="710.16" stroke="rgba(0,0,0,0.72)" stroke-width="1.4" stroke-linecap="butt"/>
<line x1="1486.79" y1="716.79" x2="1498.53" y2="723.45" stroke="rgba(0,0,0,0.72)" stroke-width="1.4" stroke-linecap="butt"/>
<line x1="1479.49" y1="728.38" x2="1490.58" y2="736.08" stroke="rgba(0,0,0,0.72)" stroke-width="1.4" stroke-linecap="butt"/>
<line x1="1471.17" y1="739.26" x2="1481.51" y2="747.94" stroke="rgba(0,0,0,0.72)" stroke-width="1.4" stroke-linecap="butt"/>
<line x1="1276.21" y1="708.73" x2="1227.65" y2="749.48" stroke="#b4b0aa" stroke-width="2.5" stroke-linecap="butt"/>
<line x1="1434.79" y1="708.73" x2="1483.35" y2="749.48" stroke="#b4b0aa" stroke-width="2.5" stroke-linecap="butt"/>
<path d="M1228.41,748.84 A165.9,165.9 0 1 1 1482.59,748.84" fill="none" stroke="#cdc9c2" stroke-width="2.4"/>
<line x1="1227.95" y1="749.22" x2="1223.36" y2="753.08" stroke="#ffffff" stroke-width="3.0" stroke-linecap="butt"/>
<line x1="1193.95" y1="682.48" x2="1188.12" y2="683.93" stroke="#ffffff" stroke-width="3.0" stroke-linecap="butt"/>
<line x1="1192.64" y1="607.58" x2="1186.77" y2="606.34" stroke="#ffffff" stroke-width="3.0" stroke-linecap="butt"/>
<line x1="1224.30" y1="539.69" x2="1219.57" y2="536.00" stroke="#ffffff" stroke-width="3.0" stroke-linecap="butt"/>
<line x1="1282.51" y1="492.55" x2="1279.88" y2="487.16" stroke="#ffffff" stroke-width="3.0" stroke-linecap="butt"/>
<line x1="1355.50" y1="475.70" x2="1355.50" y2="469.70" stroke="#ffffff" stroke-width="3.0" stroke-linecap="butt"/>
<line x1="1428.49" y1="492.55" x2="1431.12" y2="487.16" stroke="#ffffff" stroke-width="3.0" stroke-linecap="butt"/>
<line x1="1486.70" y1="539.69" x2="1491.43" y2="536.00" stroke="#ffffff" stroke-width="3.0" stroke-linecap="butt"/>
<line x1="1518.36" y1="607.58" x2="1524.23" y2="606.34" stroke="#ffffff" stroke-width="3.0" stroke-linecap="butt"/>
<line x1="1517.05" y1="682.48" x2="1522.88" y2="683.93" stroke="#ffffff" stroke-width="3.0" stroke-linecap="butt"/>
<line x1="1483.05" y1="749.22" x2="1487.64" y2="753.08" stroke="#ffffff" stroke-width="3.0" stroke-linecap="butt"/>
<text transform="translate(1216.85,764.50) scale(1,1.05)" text-anchor="end" class="lab">0%</text>
<text transform="translate(1179.88,691.95) scale(1,1.05)" text-anchor="end" class="lab">10%</text>
<text transform="translate(1178.46,610.53) scale(1,1.05)" text-anchor="end" class="lab">20%</text>
<text transform="translate(1212.87,536.73) scale(1,1.05)" text-anchor="end" class="lab">30%</text>
<text transform="translate(1276.15,485.48) scale(1,1.05)" text-anchor="end" class="lab">40%</text>
<text transform="translate(1355.50,467.16) scale(1,1.05)" text-anchor="start" class="lab">50%</text>
<text transform="translate(1436.05,485.48) scale(1,1.05)" text-anchor="start" class="lab">60%</text>
<text transform="translate(1499.33,536.73) scale(1,1.05)" text-anchor="start" class="lab">70%</text>
<text transform="translate(1533.74,610.53) scale(1,1.05)" text-anchor="start" class="lab">80%</text>
<text transform="translate(1532.32,691.95) scale(1,1.05)" text-anchor="start" class="lab">90%</text>
<text transform="translate(1495.35,764.50) scale(1,1.05)" text-anchor="start" class="lab">100%</text>
<text transform="translate(1355.50,657.0) scale(1,1.07)" text-anchor="middle" class="val">86.0%</text>
<polygon points="1407.21,640.44 1462.57,644.43 1486.24,650.43 1462.01,653.41 1406.58,650.42" fill="#ffffff"/>
<text transform="translate(1355.50,375.8) scale(1,1.07)" text-anchor="middle" class="ttl">Average Health</text>
</svg>
</body></html>
